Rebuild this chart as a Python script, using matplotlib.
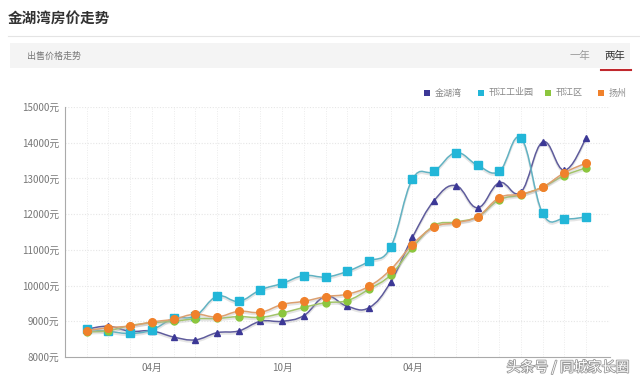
import numpy as np
import matplotlib
matplotlib.use("Agg")
from matplotlib import pyplot as plt
from matplotlib.path import Path
from matplotlib.patches import PathPatch, Rectangle
import matplotlib.transforms as mtransforms
import matplotlib.patheffects as pe

plt.rcParams['font.family'] = ['Noto Sans CJK SC', 'DejaVu Sans']

months = np.arange(24)
tick_idx = [3, 9, 15]
tick_labels = ['04月', '10月', '04月']
yticks = [8000, 9000, 10000, 11000, 12000, 13000, 14000, 15000]

names = ['金湖湾', '邗江工业园', '邗江区', '扬州']
jinhuwan = [8780, 8860, 8720, 8730, 8560, 8480, 8680, 8730, 9000, 9000, 9160, 9700,
            9420, 9380, 10100, 11350, 12380, 12800, 12180, 12880, 12620, 14020, 13230, 14120]
gongyeyuan = [8780, 8720, 8660, 8760, 9080, 9150, 9700, 9560, 9880, 10060, 10280, 10240,
              10400, 10680, 11080, 12980, 13200, 13720, 13370, 13200, 14130, 12020, 11870, 11920]
hanjiangqu = [8700, 8740, 8880, 8960, 9000, 9070, 9080, 9130, 9110, 9230, 9390, 9520,
              9580, 9900, 10300, 11060, 11680, 11780, 11930, 12400, 12540, 12760, 13080, 13300]
yangzhou = [8740, 8820, 8870, 8980, 9060, 9200, 9120, 9280, 9250, 9470, 9560, 9690,
            9760, 9980, 10450, 11150, 11640, 11760, 11930, 12460, 12560, 12760, 13160, 13430]

series = [jinhuwan, gongyeyuan, hanjiangqu, yangzhou]
colors = ['#3c3896', '#22b6d8', '#8cc63e', '#f0812b']
line_colors = ['#5f5c9c', '#62b2c2', '#a2c46a', '#dca070']
markers = ['^', 's', 'o', 'o']
msizes = [5, 5.5, 5, 5.5]


def smooth_path(x, y, s=0.2):
    # Catmull-Rom style cubic bezier through the points
    x = np.asarray(x, float)
    y = np.asarray(y, float)
    verts = [(x[0], y[0])]
    codes = [Path.MOVETO]
    n = len(x)
    for i in range(n - 1):
        i0 = max(i - 1, 0)
        i3 = min(i + 2, n - 1)
        c1 = (x[i] + (x[i + 1] - x[i0]) * s, y[i] + (y[i + 1] - y[i0]) * s)
        c2 = (x[i + 1] - (x[i3] - x[i]) * s, y[i + 1] - (y[i3] - y[i]) * s)
        verts += [c1, c2, (x[i + 1], y[i + 1])]
        codes += [Path.CURVE4] * 3
    return Path(verts, codes)


fig = plt.figure(figsize=(6.4, 3.8), dpi=100)

# header
fig.text(8 / 640, 1 - 18 / 380, '金湖湾房价走势', fontsize=10.5, fontweight='bold',
         color='#333333', va='center')
fig.add_artist(plt.Line2D([8 / 640, 1], [1 - 36 / 380] * 2, color='#e4e4e4', lw=0.8))
fig.add_artist(Rectangle((10 / 640, 1 - 68 / 380), 620 / 640, 25 / 380,
                         facecolor='#f4f4f4', edgecolor='none', transform=fig.transFigure))
fig.text(27 / 640, 1 - 56 / 380, '出售价格走势', fontsize=6.5, color='#777777', va='center')
fig.text(580 / 640, 1 - 56 / 380, '一年', fontsize=7.5, color='#999999', va='center', ha='center')
fig.text(615 / 640, 1 - 56 / 380, '两年', fontsize=7.5, color='#333333', va='center', ha='center')
fig.add_artist(plt.Line2D([601 / 640, 631 / 640], [1 - 70 / 380] * 2, color='#c0282d', lw=1.5))

# legend
leg_x = [424, 478, 545, 598]
for lx, name, c in zip(leg_x, names, colors):
    fig.add_artist(Rectangle((lx / 640, 1 - 96 / 380), 6 / 640, 6 / 380,
                             facecolor=c, edgecolor='none', transform=fig.transFigure))
    fig.text((lx + 11) / 640, 1 - 93 / 380, name, fontsize=6.5, color='#888888', va='center')

ax = fig.add_axes([65 / 640, 1 - 357 / 380, 545 / 640, 250 / 380])
ax.set_xlim(-1, 24.1)
ax.set_ylim(8000, 15000)

for i in months:
    ax.axvline(i, color='#ececec', lw=0.7, ls=(0, (1, 1.5)), zorder=0)
for v in yticks[1:]:
    ax.axhline(v, color='#e6e6e6', lw=0.8, ls=(0, (1, 1.5)), zorder=0)

shadow = mtransforms.offset_copy(ax.transData, fig=fig, x=0, y=-1.2, units='points')
for k, (vals, c, lc, m, ms) in enumerate(zip(series, colors, line_colors, markers, msizes)):
    p = smooth_path(months, vals)
    ax.add_patch(PathPatch(p, facecolor='none', edgecolor='#aaaaaa', lw=1.5, alpha=0.3,
                           transform=shadow, zorder=2 + k))
    ax.add_patch(PathPatch(p, facecolor='none', edgecolor=lc, lw=1.1, zorder=3 + k))
    ax.plot(months, vals, ls='none', marker=m, ms=ms, color=c, markeredgecolor=c, zorder=4 + k)

ax.set_yticks(yticks)
ax.set_yticklabels([f'{v}元' for v in yticks])
ax.set_xticks(tick_idx)
ax.set_xticklabels(tick_labels)
ax.tick_params(axis='both', length=0, labelsize=7, colors='#777777', pad=4)
for s in ['top', 'right']:
    ax.spines[s].set_visible(False)
for s in ['left', 'bottom']:
    ax.spines[s].set_color('#aaaaaa')
    ax.spines[s].set_linewidth(0.8)

# watermark
fig.text(568 / 640, 1 - 367 / 380, '头条号 / 同城家长圈', fontsize=10, color='white',
         ha='center', va='center',
         path_effects=[pe.withStroke(linewidth=1.2, foreground='#999999')])

fig.savefig('out.png', dpi=100)
